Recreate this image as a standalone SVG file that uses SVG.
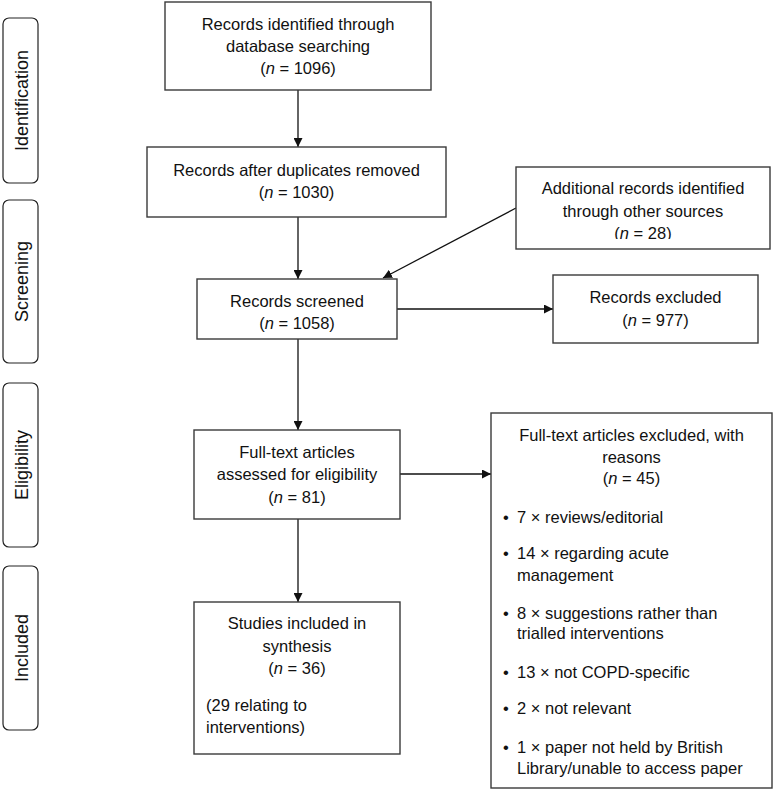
<svg xmlns="http://www.w3.org/2000/svg" width="774" height="791" viewBox="0 0 774 791">
  <style>
    text { font-family: "Liberation Sans", Arial, sans-serif; font-size: 16.5px; fill: #111; }
    .c { text-anchor: middle; }
    .phase { font-size: 18px; text-anchor: middle; }
    .box { fill: #fff; stroke: #3a3a3a; stroke-width: 1.4; }
    .pbox { fill: #fff; stroke: #222; stroke-width: 1.2; }
    .conn line { stroke: #111; stroke-width: 1.3; fill: none; }
    .i { font-style: italic; }
  </style>
  <defs>
    <marker id="ah" viewBox="0 0 10 10" refX="10" refY="5" markerWidth="9" markerHeight="9" markerUnits="userSpaceOnUse" orient="auto">
      <path d="M0,0 L10,5 L0,10 z" fill="#111"/>
    </marker>
    <clipPath id="clipAdd">
      <rect x="516" y="167" width="254" height="72"/>
    </clipPath>
  </defs>
  <rect width="774" height="791" fill="#fff"/>

  <g id="phase-identification">
    <rect class="pbox" x="3" y="18" width="35" height="165" rx="6"/>
    <text class="phase" transform="translate(28,100.5) rotate(-90)">Identification</text>
  </g>
  <g id="phase-screening">
    <rect class="pbox" x="3" y="200" width="35" height="163" rx="6"/>
    <text class="phase" transform="translate(28,281.5) rotate(-90)">Screening</text>
  </g>
  <g id="phase-eligibility">
    <rect class="pbox" x="3" y="383" width="35" height="164" rx="6"/>
    <text class="phase" transform="translate(28,465) rotate(-90)">Eligibility</text>
  </g>
  <g id="phase-included">
    <rect class="pbox" x="3" y="566" width="35" height="164" rx="6"/>
    <text class="phase" transform="translate(28,648) rotate(-90)">Included</text>
  </g>

  <g class="conn" id="connectors">
    <line x1="298" y1="90" x2="298" y2="147" marker-end="url(#ah)"/>
    <line x1="298" y1="217" x2="298" y2="279" marker-end="url(#ah)"/>
    <line x1="516" y1="208" x2="383" y2="278" marker-end="url(#ah)"/>
    <line x1="397" y1="309" x2="553" y2="309" marker-end="url(#ah)"/>
    <line x1="298" y1="339" x2="298" y2="430" marker-end="url(#ah)"/>
    <line x1="400" y1="474" x2="491" y2="474" marker-end="url(#ah)"/>
    <line x1="298" y1="519" x2="298" y2="602" marker-end="url(#ah)"/>
  </g>

  <g id="records-identified">
    <rect class="box" x="165" y="2" width="266" height="88"/>
    <text class="c" x="298" y="30">Records identified through</text>
    <text class="c" x="298" y="52">database searching</text>
    <text class="c" x="298" y="74">(<tspan class="i">n</tspan> = 1096)</text>
  </g>

  <g id="records-deduplicated">
    <rect class="box" x="147" y="147" width="299" height="70"/>
    <text class="c" x="296.5" y="176">Records after duplicates removed</text>
    <text class="c" x="296.5" y="198">(<tspan class="i">n</tspan> = 1030)</text>
  </g>

  <g id="additional-records">
    <rect class="box" x="516" y="167" width="254" height="82"/>
    <text class="c" x="643" y="194">Additional records identified</text>
    <text class="c" x="643" y="217">through other sources</text>
    <text class="c" x="643" y="239" clip-path="url(#clipAdd)">(<tspan class="i">n</tspan> = 28)</text>
  </g>

  <g id="records-screened">
    <rect class="box" x="197" y="279" width="200" height="60"/>
    <text class="c" x="297" y="307">Records screened</text>
    <text class="c" x="297" y="329">(<tspan class="i">n</tspan> = 1058)</text>
  </g>

  <g id="records-excluded">
    <rect class="box" x="553" y="275" width="205" height="68"/>
    <text class="c" x="655.5" y="303">Records excluded</text>
    <text class="c" x="655.5" y="326">(<tspan class="i">n</tspan> = 977)</text>
  </g>

  <g id="full-text-assessed">
    <rect class="box" x="194" y="430" width="206" height="89"/>
    <text class="c" x="297" y="458">Full-text articles</text>
    <text class="c" x="297" y="480">assessed for eligibility</text>
    <text class="c" x="297" y="503">(<tspan class="i">n</tspan> = 81)</text>
  </g>

  <g id="full-text-excluded">
    <rect class="box" x="491" y="413" width="281" height="375"/>
    <text class="c" x="631.5" y="441">Full-text articles excluded, with</text>
    <text class="c" x="631.5" y="463">reasons</text>
    <text class="c" x="631.5" y="484">(<tspan class="i">n</tspan> = 45)</text>
    <text x="503" y="523">•</text><text x="517" y="523">7 × reviews/editorial</text>
    <text x="503" y="559">•</text><text x="517" y="559">14 × regarding acute</text>
    <text x="517" y="581">management</text>
    <text x="503" y="619">•</text><text x="517" y="619">8 × suggestions rather than</text>
    <text x="517" y="639">trialled interventions</text>
    <text x="503" y="678">•</text><text x="517" y="678">13 × not COPD-specific</text>
    <text x="503" y="714">•</text><text x="517" y="714">2 × not relevant</text>
    <text x="503" y="753">•</text><text x="517" y="753">1 × paper not held by British</text>
    <text x="517" y="774">Library/unable to access paper</text>
  </g>

  <g id="studies-included">
    <rect class="box" x="194" y="602" width="206" height="152"/>
    <text class="c" x="297" y="629">Studies included in</text>
    <text class="c" x="297" y="652">synthesis</text>
    <text class="c" x="297" y="674">(<tspan class="i">n</tspan> = 36)</text>
    <text x="206" y="711">(29 relating to</text>
    <text x="206" y="733">interventions)</text>
  </g>
</svg>
